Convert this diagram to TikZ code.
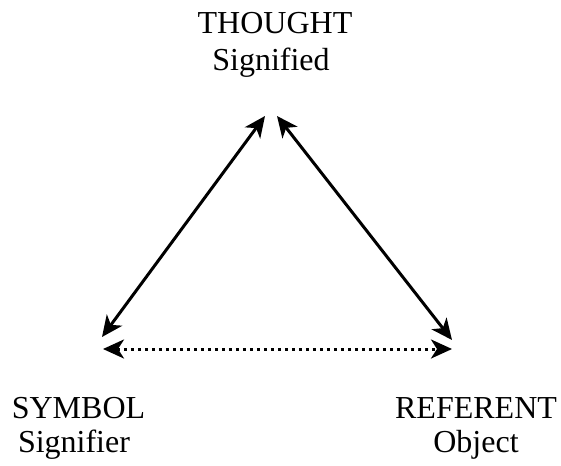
\documentclass[tikz,border=0pt]{standalone}
\usepackage{fontspec}
\setmainfont{Liberation Serif}
\usetikzlibrary{arrows.meta}
\begin{document}
\begin{tikzpicture}[x=1pt,y=-1pt,
  lbl/.style={anchor=base, inner sep=0pt, font=\fontsize{32}{38}\selectfont},
  rel/.style={line width=3pt, {Stealth[length=21pt,width=19pt,inset=6pt]}-{Stealth[length=21pt,width=19pt,inset=6pt]}},
  dotrel/.style={rel, dash pattern=on 3pt off 4pt}]
\useasboundingbox (0,0) rectangle (561,465);
\node[lbl] (thought) at (275,34) {THOUGHT};
\node[lbl] (signified) at (271,71) {Signified};
\node[lbl] (symbol) at (78.5,418) {SYMBOL};
\node[lbl] (signifier) at (74,452) {Signifier};
\node[lbl] (referent) at (476,418) {REFERENT};
\node[lbl] (object) at (476,452) {Object};
\coordinate (tL) at (265,116);
\coordinate (tR) at (277,116);
\coordinate (sL) at (102,337);
\coordinate (rR) at (452,340);
\coordinate (dL) at (103,349);
\coordinate (dR) at (452,349);
\draw[rel] (tL) -- (sL);
\draw[rel] (tR) -- (rR);
\draw[dotrel] (dL) -- (dR);
\end{tikzpicture}
\end{document}
